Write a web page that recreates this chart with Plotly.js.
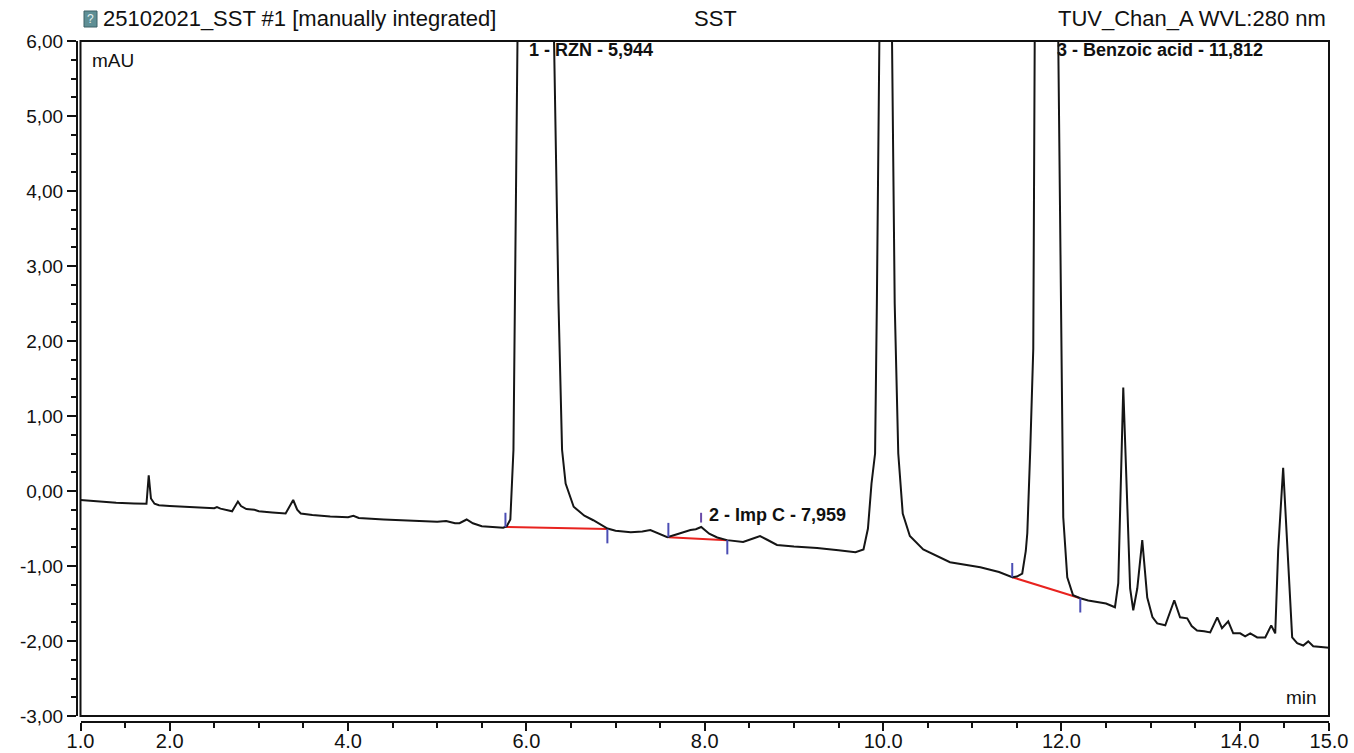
<!DOCTYPE html>
<html>
<head>
<meta charset="utf-8">
<script src="https://cdn.plot.ly/plotly-3.0.1.min.js"></script>
<style>html,body{margin:0;padding:0;background:#fff;}#chart{width:1354px;height:753px;}</style>
</head>
<body>
<div id="chart"></div>
<script>
// ---- chromatogram signal (time in min, signal in mAU) ----
const timeMin = [1.00,1.20,1.40,1.60,1.70,1.74,1.765,1.79,1.83,1.88,2.00,2.20,2.40,2.50,2.53,2.57,2.70,2.765,2.80,2.86,2.95,3.00,3.15,3.30,3.385,3.43,3.47,3.60,3.80,4.00,4.06,4.12,4.40,4.60,4.80,5.00,5.10,5.20,5.25,5.33,5.40,5.50,5.74,5.78,5.82,5.855,5.90,5.944,6.27,6.31,6.36,6.40,6.44,6.53,6.65,6.75,6.91,7.00,7.17,7.30,7.39,7.48,7.58,7.68,7.76,7.84,7.90,7.96,8.05,8.14,8.25,8.43,8.55,8.62,8.70,8.81,9.00,9.26,9.50,9.69,9.78,9.83,9.87,9.91,9.93,9.955,10.03,10.10,10.13,10.17,10.22,10.30,10.45,10.75,11.09,11.30,11.448,11.50,11.56,11.60,11.617,11.65,11.684,11.70,11.812,11.964,11.998,12.02,12.065,12.13,12.21,12.30,12.40,12.50,12.60,12.637,12.693,12.738,12.77,12.805,12.85,12.906,12.94,12.962,13.02,13.074,13.164,13.22,13.265,13.33,13.41,13.46,13.52,13.60,13.668,13.747,13.80,13.87,13.926,14.004,14.06,14.117,14.195,14.285,14.352,14.397,14.43,14.486,14.531,14.587,14.643,14.711,14.767,14.823,15.00];
const signalMAU = [-0.12,-0.14,-0.155,-0.165,-0.175,-0.17,0.21,-0.10,-0.17,-0.19,-0.20,-0.215,-0.225,-0.23,-0.215,-0.235,-0.27,-0.14,-0.20,-0.24,-0.25,-0.27,-0.285,-0.30,-0.12,-0.25,-0.30,-0.32,-0.34,-0.35,-0.33,-0.36,-0.38,-0.385,-0.40,-0.41,-0.40,-0.43,-0.43,-0.38,-0.43,-0.47,-0.49,-0.47,-0.38,0.55,6.0,40,10,6.0,2.5,0.55,0.10,-0.21,-0.33,-0.39,-0.50,-0.53,-0.55,-0.54,-0.52,-0.57,-0.615,-0.58,-0.55,-0.52,-0.51,-0.48,-0.57,-0.62,-0.655,-0.68,-0.63,-0.60,-0.65,-0.72,-0.74,-0.76,-0.79,-0.815,-0.78,-0.50,0.10,0.5,2.5,6.0,15,6.0,2.5,0.5,-0.3,-0.6,-0.78,-0.95,-1.016,-1.08,-1.15,-1.14,-1.10,-0.80,-0.56,0.55,1.9,6.0,25,6.0,1.9,-0.35,-1.15,-1.39,-1.43,-1.46,-1.48,-1.50,-1.55,-1.23,1.38,-0.35,-1.30,-1.59,-1.30,-0.655,-1.20,-1.42,-1.68,-1.765,-1.79,-1.60,-1.457,-1.684,-1.698,-1.80,-1.86,-1.87,-1.885,-1.684,-1.83,-1.738,-1.898,-1.898,-1.938,-1.898,-1.952,-1.952,-1.791,-1.898,-0.789,0.308,-0.789,-1.952,-2.03,-2.06,-2.005,-2.07,-2.09];

// ---- integration baselines ----
const baseStartT = [5.765, 7.592, 11.448];
const baseStartV = [-0.48, -0.615, -1.15];
const baseEndT   = [6.908, 8.253, 12.211];
const baseEndV   = [-0.508, -0.655, -1.43];

// ---- peak labels ----
const peakNames = ["RZN", "Imp C", "Benzoic acid"];
const peakNums  = [1, 2, 3];
const peakRT    = [5.944, 7.959, 11.812];
const peakRTtxt = ["5,944", "7,959", "11,812"];

// ---- axis ticks ----
const xTickVals = [1, 2, 4, 6, 8, 10, 12, 14, 15];
const xTickText = ["1.0","2.0","4.0","6.0","8.0","10.0","12.0","14.0","15.0"];
const yTickVals = [-3,-2,-1,0,1,2,3,4,5,6];
const yTickText = ["-3,00","-2,00","-1,00","0,00","1,00","2,00","3,00","4,00","5,00","6,00"];

// ---- header texts ----
const headerLeft  = "25102021_SST #1 [manually integrated]";
const headerMid   = "SST";
const headerRight = "TUV_Chan_A WVL:280 nm";

function interp(t){
  for(let i=0;i<timeMin.length-1;i++){
    if(t>=timeMin[i] && t<=timeMin[i+1]){
      const f=(t-timeMin[i])/(timeMin[i+1]-timeMin[i]);
      return signalMAU[i]+f*(signalMAU[i+1]-signalMAU[i]);
    }
  }
  return null;
}

// build baseline + tick traces
const blx=[], bly=[], tkx=[], tky=[];
for(let i=0;i<baseStartT.length;i++){
  blx.push(baseStartT[i], baseEndT[i], null);
  bly.push(baseStartV[i], baseEndV[i], null);
  tkx.push(baseStartT[i], baseStartT[i], null, baseEndT[i], baseEndT[i], null);
  tky.push(baseStartV[i], baseStartV[i]+0.19, null, baseEndV[i], baseEndV[i]-0.19, null);
}
const apexV = interp(peakRT[1]);

const FONT = "Liberation Sans, Arial, sans-serif";
const L=77, R=1329, TOP=41, BOT=722;
const W=R-L, H=BOT-TOP;
const px=(x)=>(x-L)/W, py=(y)=>(BOT-y)/H;

const traces = [
  {x:blx, y:bly, mode:'lines', line:{color:'#e8231f', width:2}, hoverinfo:'skip'},
  {x:timeMin, y:signalMAU, mode:'lines', line:{color:'#151515', width:2}, hoverinfo:'skip'},
  {x:tkx, y:tky, mode:'lines', line:{color:'#4b4db4', width:2}, hoverinfo:'skip'},
  {x:[peakRT[1], peakRT[1]], y:[apexV+0.06, apexV+0.19], mode:'lines', line:{color:'#6a4aa8', width:2}, hoverinfo:'skip'}
];

const ann = [];
for(let i=0;i<peakRT.length;i++){
  const y = (i===1) ? -0.32 : 5.88;
  ann.push({x:peakRT[i], y:y, xref:'x', yref:'y', xanchor:'left', yanchor:'middle', xshift:(i===2?10:6),
    text:'<b>'+peakNums[i]+' - '+peakNames[i]+' - '+peakRTtxt[i]+'</b>', showarrow:false,
    font:{family:FONT, size:18, color:'#111'}});
}
ann.push({x:px(101), y:py(19), xref:'paper', yref:'paper', xanchor:'left', yanchor:'middle', text:headerLeft, showarrow:false, font:{family:FONT,size:22,color:'#111'}});
ann.push({x:px(715), y:py(19), xref:'paper', yref:'paper', xanchor:'center', yanchor:'middle', text:headerMid, showarrow:false, font:{family:FONT,size:22,color:'#111'}});
ann.push({x:px(1328), y:py(19), xref:'paper', yref:'paper', xanchor:'right', yanchor:'middle', text:headerRight, showarrow:false, font:{family:FONT,size:22,color:'#111'}});
ann.push({x:px(90), y:py(60), xref:'paper', yref:'paper', xanchor:'left', yanchor:'middle', text:'mAU', showarrow:false, font:{family:FONT,size:19,color:'#111'}});
ann.push({x:px(1319), y:py(697), xref:'paper', yref:'paper', xanchor:'right', yanchor:'middle', text:'min', showarrow:false, font:{family:FONT,size:19,color:'#111'}});
ann.push({x:px(90), y:py(19), xref:'paper', yref:'paper', xanchor:'center', yanchor:'middle', text:'?', showarrow:false, font:{family:FONT,size:12,color:'#e4f2f4'}});

const layout = {
  width:1354, height:753,
  margin:{l:L, r:1354-R, t:TOP, b:753-BOT, pad:0},
  paper_bgcolor:'#fff', plot_bgcolor:'#fff',
  showlegend:false,
  xaxis:{range:[1,15], domain:[3.5/W,1], anchor:'free', position:0,
    showline:true, linecolor:'#111', linewidth:2, showgrid:false, zeroline:false,
    tickmode:'array', tickvals:xTickVals, ticktext:xTickText,
    ticks:'outside', ticklen:8, tickwidth:2, tickcolor:'#111', ticklabelstandoff:-7,
    minor:{tickmode:'linear', tick0:1, dtick:0.5, ticks:'outside', ticklen:5, tickwidth:2, tickcolor:'#111', showgrid:false},
    tickfont:{family:FONT, size:20, color:'#111'}},
  yaxis:{range:[-3,6], domain:[(BOT-716)/H,1], anchor:'free', position:0,
    showline:true, linecolor:'#111', linewidth:2, showgrid:false, zeroline:false,
    tickmode:'array', tickvals:yTickVals, ticktext:yTickText,
    ticks:'outside', ticklen:9, tickwidth:2, tickcolor:'#111',
    minor:{tickmode:'linear', tick0:0, dtick:0.25, ticks:'outside', ticklen:5, tickwidth:2, tickcolor:'#111', showgrid:false},
    tickfont:{family:FONT, size:19, color:'#111'}},
  shapes:[
    {type:'rect', xref:'x domain', yref:'y domain', x0:0, x1:1, y0:0, y1:1, line:{color:'#111', width:2}, layer:'above'},
    {type:'rect', xref:'paper', yref:'paper', x0:px(84), x1:px(97), y0:py(27), y1:py(11), fillcolor:'#5f8f95', line:{color:'#3d6166', width:1}}
  ],
  annotations:ann
};

Plotly.newPlot('chart', traces, layout, {staticPlot:true, displayModeBar:false});
</script>
</body>
</html>
